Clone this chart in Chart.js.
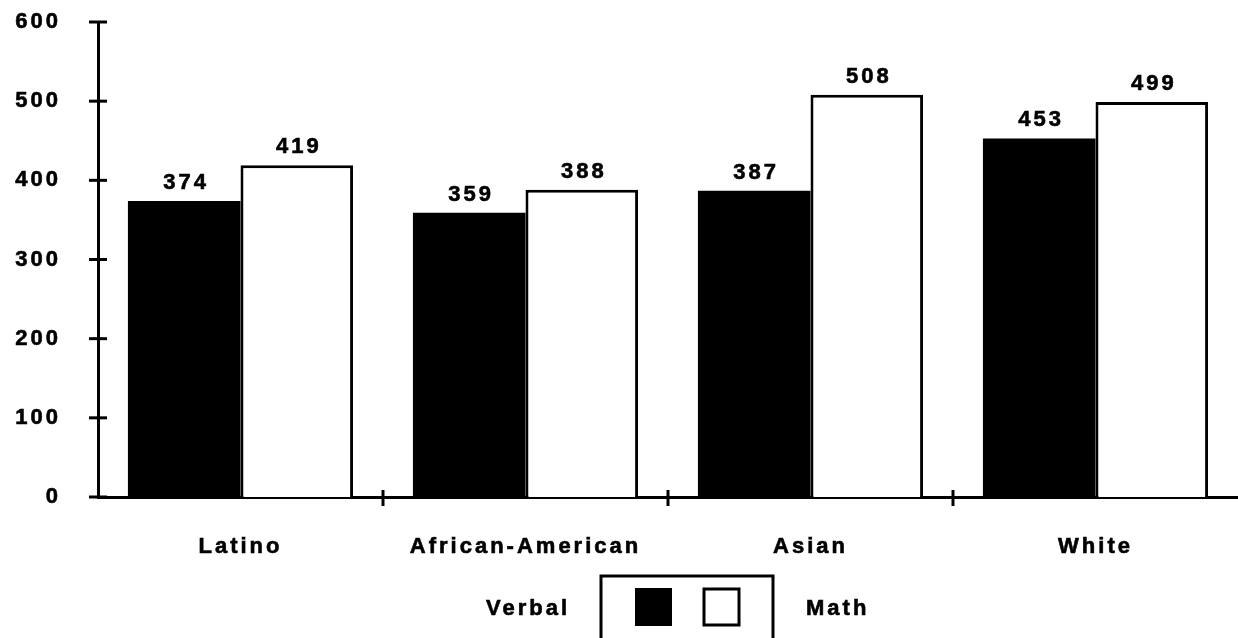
<!DOCTYPE html>
<html>
<head>
<meta charset="utf-8">
<title>SAT Scores by Group</title>
<script src="https://cdn.jsdelivr.net/npm/chart.js@4/dist/chart.umd.min.js"></script>
<style>
  html, body { margin: 0; padding: 0; background: #fff; }
  #wrap { width: 1238px; height: 638px; position: relative; }
</style>
</head>
<body>
<div id="wrap"><canvas id="c" width="1238" height="638"></canvas></div>
<script>
// Groups and mean scores
const categories = ['Latino', 'African-American', 'Asian', 'White'];
const verbalScores = [374, 359, 387, 453];
const mathScores = [419, 388, 508, 499];
const yTicks = [0, 100, 200, 300, 400, 500, 600];

const FONT = '"Liberation Sans", Arial, Helvetica, sans-serif';
const TRACK = '3px';
const SIZE = 22;
const HEAVY = 0.6; // extra outline to thicken glyphs

// Apply wide letter tracking to all canvas text
const trackingPlugin = {
  id: 'tracking',
  beforeDraw(chart) { chart.ctx.letterSpacing = TRACK; }
};

// Cross-shaped tick marks on both axes
const crossTicks = {
  id: 'crossTicks',
  afterDraw(chart) {
    const { ctx, scales: { x, y } } = chart;
    ctx.save();
    ctx.strokeStyle = '#000';
    ctx.lineWidth = 3;
    const ax = y.right;
    yTicks.forEach(v => {
      const py = y.getPixelForValue(v);
      ctx.beginPath();
      ctx.moveTo(ax - 9, py);
      ctx.lineTo(ax + 9, py);
      ctx.stroke();
    });
    const by = x.top;
    for (let i = 1; i < categories.length; i++) {
      const px = (x.getPixelForValue(i - 1) + x.getPixelForValue(i)) / 2;
      ctx.beginPath();
      ctx.moveTo(px, by - 7);
      ctx.lineTo(px, by + 9);
      ctx.stroke();
    }
    ctx.restore();
  }
};

function heavyText(ctx, s, x, y) {
  ctx.fillText(s, x, y);
  ctx.lineWidth = HEAVY;
  ctx.strokeStyle = '#000';
  ctx.strokeText(s, x, y);
}

// Value labels above each bar
const valueLabels = {
  id: 'valueLabels',
  afterDatasetsDraw(chart) {
    const ctx = chart.ctx;
    ctx.save();
    ctx.letterSpacing = TRACK;
    ctx.font = 'bold ' + SIZE + 'px ' + FONT;
    ctx.fillStyle = '#000';
    ctx.textAlign = 'center';
    ctx.textBaseline = 'alphabetic';
    chart.data.datasets.forEach((ds, di) => {
      chart.getDatasetMeta(di).data.forEach((bar, i) => {
        heavyText(ctx, String(ds.data[i]), bar.x + 2, bar.y - 12);
      });
    });
    ctx.restore();
  }
};

// Boxed legend with series names outside the box
const boxLegend = {
  id: 'boxLegend',
  afterDraw(chart) {
    const ctx = chart.ctx;
    const ds = chart.data.datasets;
    ctx.save();
    ctx.strokeStyle = '#000';
    ctx.lineWidth = 3;
    ctx.strokeRect(601, 576, 172, 80);
    ctx.fillStyle = ds[0].backgroundColor;
    ctx.fillRect(635, 588, 37, 38);
    ctx.fillStyle = ds[1].backgroundColor;
    ctx.fillRect(704, 589, 35, 36);
    ctx.strokeRect(704, 589, 35, 36);
    ctx.letterSpacing = TRACK;
    ctx.font = 'bold ' + SIZE + 'px ' + FONT;
    ctx.fillStyle = '#000';
    ctx.textBaseline = 'middle';
    ctx.textAlign = 'left';
    heavyText(ctx, ds[0].label, 486, 609);
    heavyText(ctx, ds[1].label, 806, 609);
    ctx.restore();
  }
};

new Chart(document.getElementById('c'), {
  type: 'bar',
  data: {
    labels: categories,
    datasets: [
      {
        label: 'Verbal',
        data: verbalScores,
        backgroundColor: '#000',
        borderColor: '#000',
        borderWidth: 0
      },
      {
        label: 'Math',
        data: mathScores,
        backgroundColor: '#fff',
        borderColor: '#000',
        borderWidth: 3,
        borderSkipped: 'bottom'
      }
    ]
  },
  options: {
    responsive: false,
    animation: false,
    devicePixelRatio: 1,
    layout: { padding: { top: 22, right: 0, left: 0, bottom: 0 } },
    datasets: {
      bar: { categoryPercentage: 0.79, barPercentage: 1.0 }
    },
    plugins: {
      legend: { display: false },
      tooltip: { enabled: false },
      title: { display: false }
    },
    scales: {
      x: {
        grid: { display: false, drawTicks: false },
        border: { display: true, color: '#000', width: 3 },
        ticks: {
          color: '#000',
          font: { family: FONT, size: SIZE, weight: 'bold' },
          textStrokeColor: '#000',
          textStrokeWidth: HEAVY,
          padding: 37,
          maxRotation: 0
        },
        afterFit(scale) { scale.height = 141; scale.paddingTop = 0; }
      },
      y: {
        min: 0,
        max: 600,
        grid: { display: false, drawTicks: false },
        border: { display: true, color: '#000', width: 3 },
        ticks: {
          stepSize: 100,
          color: '#000',
          font: { family: FONT, size: SIZE, weight: 'bold' },
          textStrokeColor: '#000',
          textStrokeWidth: HEAVY,
          padding: 37
        },
        afterFit(scale) {
          scale.width = 98;
          scale.paddingTop = 0;
          scale.paddingBottom = 0;
        }
      }
    }
  },
  plugins: [trackingPlugin, crossTicks, valueLabels, boxLegend]
});
</script>
</body>
</html>
